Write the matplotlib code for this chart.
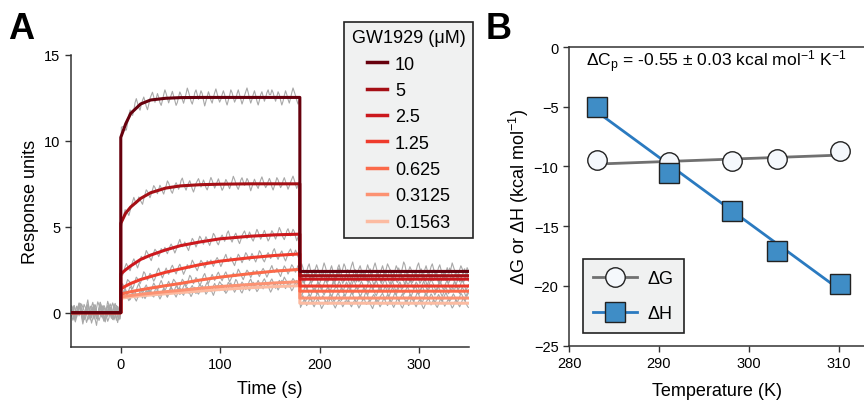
import numpy as np
import matplotlib
matplotlib.use("Agg")
import matplotlib.pyplot as plt

plt.rcParams['font.family'] = ['Liberation Sans', 'DejaVu Sans']
plt.rcParams['mathtext.fontset'] = 'custom'
plt.rcParams['mathtext.rm'] = 'Liberation Sans'
plt.rcParams['mathtext.default'] = 'regular'

# --- Panel A: SPR sensorgrams (fits) ---
conc_labels = ['10', '5', '2.5', '1.25', '0.625', '0.3125', '0.1563']
conc_colors = ['#67000d', '#a50f15', '#cb181d', '#ef3b2c', '#fb6a4a', '#fc9272', '#fcbba1']

t_assoc = [0, 5, 10, 20, 30, 45, 60, 80, 100, 130, 155, 180]
assoc_fit = [
    [10.2, 11.0, 11.6, 12.15, 12.38, 12.48, 12.52, 12.53, 12.53, 12.53, 12.53, 12.53],
    [5.2, 5.8, 6.15, 6.65, 6.98, 7.25, 7.38, 7.45, 7.48, 7.5, 7.5, 7.5],
    [2.25, 2.5, 2.72, 3.1, 3.35, 3.65, 3.9, 4.12, 4.3, 4.45, 4.53, 4.57],
    [1.38, 1.55, 1.7, 1.93, 2.1, 2.35, 2.55, 2.8, 3.0, 3.2, 3.33, 3.42],
    [1.08, 1.15, 1.22, 1.33, 1.43, 1.57, 1.7, 1.9, 2.07, 2.27, 2.42, 2.52],
    [0.92, 0.96, 1.0, 1.07, 1.13, 1.22, 1.3, 1.42, 1.52, 1.64, 1.73, 1.8],
    [0.84, 0.88, 0.92, 0.98, 1.03, 1.1, 1.17, 1.26, 1.35, 1.45, 1.52, 1.57],
]
dissoc_level = [2.4, 2.15, 1.95, 1.55, 1.25, 0.85, 0.55]
noise_amp = [0.55, 0.45, 0.42, 0.4, 0.38, 0.35, 0.35]

# residual wiggle of the raw recordings
residual = [
    0.1, 0.4, -0.2, -0.6, -0.1, 0.3, 0.6, 0.2, -0.3, -0.8,
    -0.4, 0.1, 0.5, 0.9, 0.3, -0.2, 0.0, 0.4, -0.1, -0.5,
    -0.9, -0.3, 0.2, 0.7, 0.4, -0.1, -0.6, -0.2, 0.3, 0.8,
    0.5, 0.0, -0.4, 0.1, 0.6, 0.2, -0.3, -0.7, -0.2, 0.3,
    0.9, 0.6, 0.1, -0.5, -0.8, -0.3, 0.2, 0.5, 0.1, -0.4,
    0.0, 0.7, 1.0, 0.4, -0.2, -0.6, -0.1, 0.3, 0.6, 0.1,
    -0.5, -0.9, -0.4, 0.2, 0.5, 0.8, 0.3, -0.3, 0.1, 0.6,
    0.2, -0.4, -0.7, -0.2, 0.4, 0.9, 0.5, 0.0, -0.5, -0.1,
    0.3, 0.7, 0.2, -0.3, -0.8, -0.5, 0.1, 0.6, 0.3, -0.2,
    -0.6, -0.1, 0.4, 1.0, 0.6, 0.1, -0.4, -0.7, -0.2, 0.5,
    0.8, 0.3, -0.2, 0.2, 0.7, 0.4, -0.3, -0.9, -0.4, 0.1,
    0.6, 0.2, -0.3, -0.6, 0.0, 0.5, 0.9, 0.4, -0.1, -0.5,
    -0.2, 0.3, 0.7, 0.3, -0.4, -0.8, -0.3, 0.2, 0.8, 0.5,
    0.0, -0.5, -0.2, 0.4, 0.8, 0.3, -0.2, -0.7, -0.3, 0.2,
    0.6, 1.0, 0.5, -0.1, -0.6, -0.2, 0.3, 0.7, 0.2, -0.4,
    -0.8, -0.3, 0.3, 0.6, 0.1, -0.4, 0.0, 0.5, 0.8, 0.3,
]
noise = np.concatenate([residual, residual[::-1]])
t_raw = np.arange(-49.375, 350, 1.25)
pre_boost = np.where(t_raw < 0, 1.5, 1.0)

# --- Panel B: van 't Hoff data ---
temps = [283.15, 291.15, 298.15, 303.15, 310.15]
dG = [-9.46, -9.6, -9.52, -9.41, -8.68]
dH = [-5.0, -10.52, -13.76, -17.09, -19.82]
fit_T = [283.15, 310.15]
dG_fit = [-9.8, -9.05]
dH_fit = [-5.45, -20.35]

fig = plt.figure(figsize=(8.64, 4.02), dpi=100)
axA = fig.add_axes([0.0822, 0.1343, 0.4606, 0.7264])
axB = fig.add_axes([0.6586, 0.138, 0.3414, 0.7425])

for i, lab in enumerate(conc_labels):
    ft = [-50, 0] + t_assoc + [180, 350]
    fy = [0, 0] + assoc_fit[i] + [dissoc_level[i], dissoc_level[i]]
    raw = np.interp(t_raw, ft, fy) + noise_amp[i] * pre_boost * np.roll(noise, 37 * i)
    axA.plot(t_raw, raw, color='#a8a8a8', lw=0.8, zorder=1)
for i, lab in enumerate(conc_labels):
    ft = [-50, 0] + t_assoc + [180, 350]
    fy = [0, 0] + assoc_fit[i] + [dissoc_level[i], dissoc_level[i]]
    axA.plot(ft, fy, color=conc_colors[i], lw=2.2, zorder=10 - i, label=lab)

axA.set_xlim(-50, 350)
axA.set_ylim(-2, 15)
axA.set_xticks([0, 100, 200, 300])
axA.set_yticks([0, 5, 10, 15])
axA.set_xlabel('Time (s)', fontsize=13, labelpad=6)
axA.set_ylabel('Response units', fontsize=13)
for s in ['top', 'right']:
    axA.spines[s].set_visible(False)

legA = axA.legend(title='GW1929 (\u03bcM)', fontsize=13, title_fontsize=13,
                  loc='upper right', bbox_to_anchor=(0.547, 0.943),
                  bbox_transform=fig.transFigure, borderaxespad=0,
                  handlelength=1.1, handletextpad=0.45, labelspacing=0.52,
                  fancybox=False, framealpha=1, facecolor='#f0f1f1',
                  edgecolor='#222222')
legA.get_frame().set_linewidth(1.2)
for h in legA.legend_handles:
    h.set_linewidth(2.5)

# Panel B
axB.plot(fit_T, dG_fit, color='#707070', lw=2, zorder=2)
axB.plot(fit_T, dH_fit, color='#2a7ac0', lw=2, zorder=2)
axB.plot(temps, dG, 'o', ms=14, mfc='#f5f8fc', mec='#222222', mew=1, zorder=3)
axB.plot(temps, dH, 's', ms=14, mfc='#3f8dc6', mec='#222222', mew=1, zorder=4)
hG, = axB.plot([], [], '-o', color='#707070', lw=2, ms=14, mfc='#f5f8fc', mec='#222222', mew=1)
hH, = axB.plot([], [], '-s', color='#2a7ac0', lw=2, ms=14, mfc='#3f8dc6', mec='#222222', mew=1)
legB = axB.legend([hG, hH], ['\u0394G', '\u0394H'], fontsize=13, loc='lower left',
                  bbox_to_anchor=(0.046, 0.042), borderaxespad=0, numpoints=1,
                  handlelength=2.4, handletextpad=0.6, labelspacing=1.0,
                  fancybox=False, framealpha=1, facecolor='#f0f1f1',
                  edgecolor='#222222', borderpad=0.6)
legB.get_frame().set_linewidth(1.2)

axB.text(0.058, 0.953, r'ΔC$_{\rm p}$ = -0.55 ± 0.03 kcal mol$^{-1}$ K$^{-1}$',
         transform=axB.transAxes, fontsize=12.6, va='center', ha='left')
axB.set_xlim(280, 312.8)
axB.set_ylim(-25, 0)
axB.set_xticks([280, 290, 300, 310])
axB.set_yticks([0, -5, -10, -15, -20, -25])
axB.set_xlabel('Temperature (K)', fontsize=13, labelpad=9)
axB.set_ylabel(r'ΔG or ΔH (kcal mol$^{-1}$)', fontsize=13, labelpad=2)
axB.spines['right'].set_visible(False)

for ax in (axA, axB):
    ax.tick_params(labelsize=10.5, direction='out', length=4, width=1, color='#333333')
    for s in ax.spines.values():
        s.set_linewidth(1.1)
        s.set_color('#333333')

fig.text(8 / 864, 1 - 12 / 402, 'A', fontsize=26, fontweight='bold', va='top', ha='left')
fig.text(486 / 864, 1 - 12 / 402, 'B', fontsize=26, fontweight='bold', va='top', ha='left')

fig.savefig('out.png', dpi=100)
